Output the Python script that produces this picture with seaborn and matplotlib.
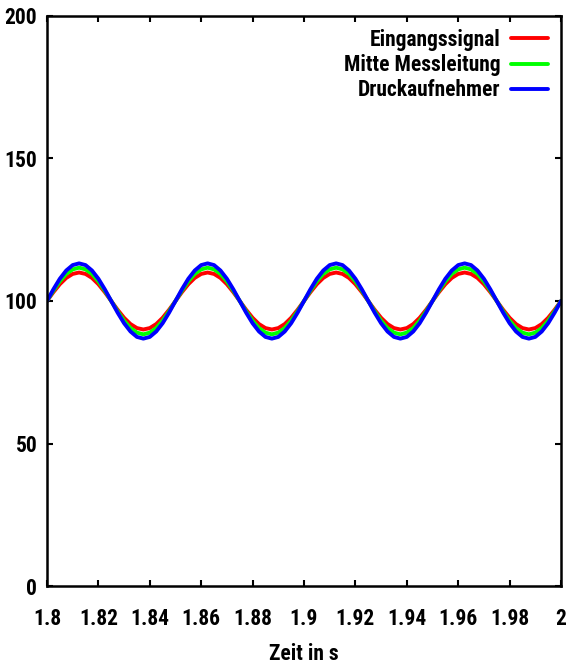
import numpy as np
import pandas as pd
import matplotlib
matplotlib.use("Agg")
import matplotlib.pyplot as plt
from matplotlib.ticker import FuncFormatter
import seaborn as sns

# Sample grid: 1.8 s .. 2.0 s in steps of 2.5 ms
t_start, t_end, n_samples = 1.8, 2.0, 81

# Pressure values (one row per 50 ms period)
eingangssignal = [
    100.0, 103.1, 105.9, 108.1, 109.5, 110.0, 109.5, 108.1, 105.9, 103.1,
    100.0, 96.9, 94.1, 91.9, 90.5, 90.0, 90.5, 91.9, 94.1, 96.9,
    100.0, 103.1, 105.9, 108.1, 109.5, 110.0, 109.5, 108.1, 105.9, 103.1,
    100.0, 96.9, 94.1, 91.9, 90.5, 90.0, 90.5, 91.9, 94.1, 96.9,
    100.0, 103.1, 105.9, 108.1, 109.5, 110.0, 109.5, 108.1, 105.9, 103.1,
    100.0, 96.9, 94.1, 91.9, 90.5, 90.0, 90.5, 91.9, 94.1, 96.9,
    100.0, 103.1, 105.9, 108.1, 109.5, 110.0, 109.5, 108.1, 105.9, 103.1,
    100.0, 96.9, 94.1, 91.9, 90.5, 90.0, 90.5, 91.9, 94.1, 96.9,
    100.0,
]
mitte_messleitung = [
    100.0, 103.6, 106.9, 109.5, 111.1, 111.7, 111.1, 109.5, 106.9, 103.6,
    100.0, 96.4, 93.1, 90.5, 88.9, 88.3, 88.9, 90.5, 93.1, 96.4,
    100.0, 103.6, 106.9, 109.5, 111.1, 111.7, 111.1, 109.5, 106.9, 103.6,
    100.0, 96.4, 93.1, 90.5, 88.9, 88.3, 88.9, 90.5, 93.1, 96.4,
    100.0, 103.6, 106.9, 109.5, 111.1, 111.7, 111.1, 109.5, 106.9, 103.6,
    100.0, 96.4, 93.1, 90.5, 88.9, 88.3, 88.9, 90.5, 93.1, 96.4,
    100.0, 103.6, 106.9, 109.5, 111.1, 111.7, 111.1, 109.5, 106.9, 103.6,
    100.0, 96.4, 93.1, 90.5, 88.9, 88.3, 88.9, 90.5, 93.1, 96.4,
    100.0,
]
druckaufnehmer = [
    100.0, 104.1, 107.8, 110.7, 112.6, 113.2, 112.6, 110.7, 107.8, 104.1,
    100.0, 95.9, 92.2, 89.3, 87.4, 86.8, 87.4, 89.3, 92.2, 95.9,
    100.0, 104.1, 107.8, 110.7, 112.6, 113.2, 112.6, 110.7, 107.8, 104.1,
    100.0, 95.9, 92.2, 89.3, 87.4, 86.8, 87.4, 89.3, 92.2, 95.9,
    100.0, 104.1, 107.8, 110.7, 112.6, 113.2, 112.6, 110.7, 107.8, 104.1,
    100.0, 95.9, 92.2, 89.3, 87.4, 86.8, 87.4, 89.3, 92.2, 95.9,
    100.0, 104.1, 107.8, 110.7, 112.6, 113.2, 112.6, 110.7, 107.8, 104.1,
    100.0, 95.9, 92.2, 89.3, 87.4, 86.8, 87.4, 89.3, 92.2, 95.9,
    100.0,
]

series_names = ["Eingangssignal", "Mitte Messleitung", "Druckaufnehmer"]
series_colors = ["#ff0000", "#00ff00", "#0000ff"]
x_ticks = [1.8, 1.82, 1.84, 1.86, 1.88, 1.9, 1.92, 1.94, 1.96, 1.98, 2.0]
y_ticks = [0, 50, 100, 150, 200]
x_label = "Zeit in s"

zeit = np.linspace(t_start, t_end, n_samples)
frames = []
for name, values in zip(series_names,
                        [eingangssignal, mitte_messleitung, druckaufnehmer]):
    frames.append(pd.DataFrame({"zeit": zeit, "wert": values, "signal": name}))
df = pd.concat(frames, ignore_index=True)

sns.set_style("ticks")
plt.rcParams["font.family"] = ["Roboto Condensed", "PT Sans Narrow", "DejaVu Sans"]
plt.rcParams["font.weight"] = "bold"
plt.rcParams["text.color"] = "black"
plt.rcParams["xtick.color"] = "black"
plt.rcParams["ytick.color"] = "black"
plt.rcParams["axes.labelcolor"] = "black"

FS = 15.5

fig = plt.figure(figsize=(5.68, 6.66), dpi=100)
ax = fig.add_axes([0.0827, 0.1201, 0.9050, 0.8559])

sns.lineplot(data=df, x="zeit", y="wert", hue="signal",
             hue_order=series_names, palette=series_colors,
             linewidth=2.8, ax=ax, legend=False)

ax.set_xlim(t_start, t_end)
ax.set_ylim(0, 200)
ax.set_xticks(x_ticks)
ax.set_yticks(y_ticks)
ax.xaxis.set_major_formatter(FuncFormatter(lambda v, p: f"{v:g}"))
ax.tick_params(direction="in", length=4, width=1.5, top=True, right=True,
               labelsize=FS, colors="black")
ax.tick_params(axis="x", pad=16)
ax.tick_params(axis="y", pad=7)
for lbl in ax.get_xticklabels() + ax.get_yticklabels():
    lbl.set_fontweight("bold")
for sp in ax.spines.values():
    sp.set_visible(True)
    sp.set_linewidth(1.8)
    sp.set_color("black")

ax.set_xlabel(x_label, fontsize=FS, fontweight="bold", labelpad=9)
ax.set_ylabel("")

handles = [plt.Line2D([], [], color=c, lw=2.8) for c in series_colors]
leg = ax.legend(handles, series_names, loc="upper right", frameon=False,
                markerfirst=False, handlelength=1.7,
                handletextpad=0.5, labelspacing=0.15,
                borderaxespad=0.2, prop={"weight": "bold", "size": FS})

fig.savefig("out.png", dpi=100)
